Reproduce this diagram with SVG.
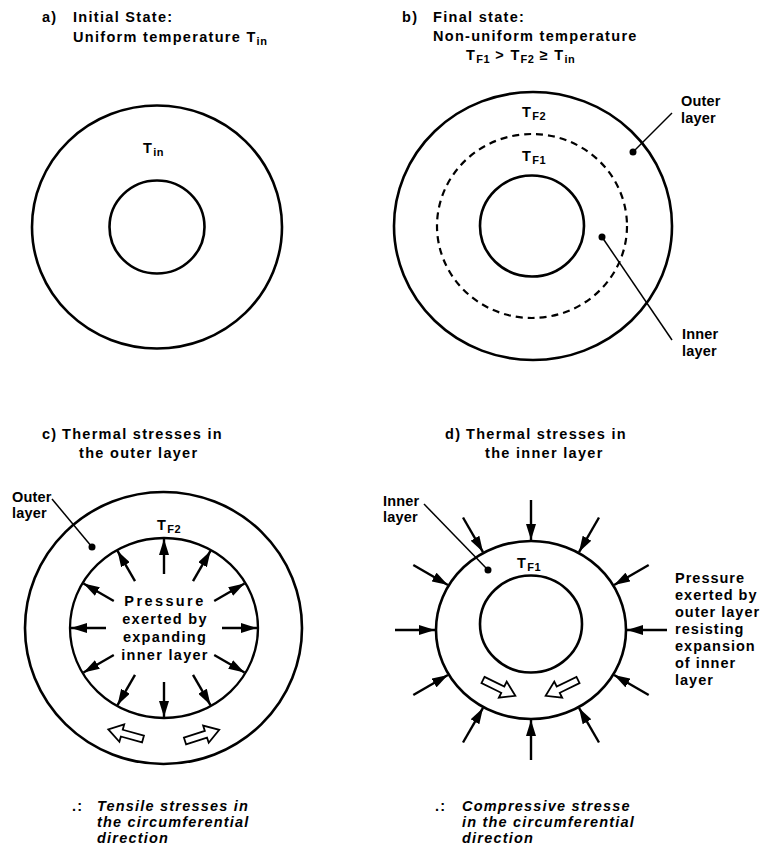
<svg xmlns="http://www.w3.org/2000/svg" width="765" height="848" viewBox="0 0 765 848">
<style>
 text{font-family:"Liberation Sans",Arial,sans-serif;font-weight:bold;font-size:14.5px;letter-spacing:1.3px;fill:#000}
 .s{font-size:11px;letter-spacing:0.5px}
 .i{font-style:italic;letter-spacing:1.2px}
 .wide{letter-spacing:2.4px}
 .rt{letter-spacing:1px}
 .lb{letter-spacing:0.2px}
 .ring{fill:none;stroke:#000;stroke-width:2.6}
 .thin{stroke-width:2.3}
 .dash{fill:none;stroke:#000;stroke-width:2.2;stroke-dasharray:7 5}
 .lead{stroke:#000;stroke-width:1.5;fill:none}
 .arr{stroke:#000;stroke-width:2.4;marker-end:url(#ah)}
 .hol{fill:#fff;stroke:#000;stroke-width:1.8;stroke-linejoin:miter}
</style>
<defs>
 <marker id="ah" viewBox="0 0 16 10" refX="16" refY="5" markerWidth="16" markerHeight="10" markerUnits="userSpaceOnUse" orient="auto"><path d="M0,0 L16,5 L0,10 Z"/></marker>
 <path id="hollow" d="M0,-3.5 L22,-3.5 L22,-9 L36,0 L22,9 L22,3.5 L0,3.5 Z"/>
</defs>

<g id="panel-a">
 <text x="42" y="22">a)</text>
 <text x="73" y="22">Initial State:</text>
 <text x="73" y="42">Uniform temperature T<tspan class="s" dy="3">in</tspan></text>
 <ellipse class="ring" cx="157" cy="227" rx="125" ry="121.5"/>
 <ellipse class="ring" cx="157" cy="227" rx="47.5" ry="46.5"/>
 <text x="143" y="153">T<tspan class="s" dy="3">in</tspan></text>
</g>

<g id="panel-b">
 <text x="402" y="22">b)</text>
 <text x="433" y="22">Final state:</text>
 <text x="433" y="41">Non-uniform temperature</text>
 <text x="466" y="60">T<tspan class="s" dy="3">F1</tspan><tspan dy="-3"> &gt; T</tspan><tspan class="s" dy="3">F2</tspan><tspan dy="-3"> ≥ T</tspan><tspan class="s" dy="3">in</tspan></text>
 <ellipse class="ring" cx="533" cy="226" rx="139" ry="134"/>
 <ellipse class="dash" cx="532" cy="226" rx="95" ry="92"/>
 <ellipse class="ring" cx="532" cy="226" rx="52" ry="50.5"/>
 <text x="522" y="117">T<tspan class="s" dy="3">F2</tspan></text>
 <text x="522" y="161">T<tspan class="s" dy="3">F1</tspan></text>
 <g id="b-outer-label"><text class="lb" x="681" y="106">Outer</text><text class="lb" x="681" y="123">layer</text></g>
 <g id="b-inner-label"><text class="lb" x="682" y="339">Inner</text><text class="lb" x="682" y="356">layer</text></g>
 <circle cx="633" cy="152" r="3.5"/>
 <circle cx="602" cy="237" r="3.5"/>
</g>

<g id="panel-c">
 <text x="42" y="439">c)</text>
 <text x="62" y="439">Thermal stresses in</text>
 <text x="79" y="458">the outer layer</text>
 <ellipse class="ring" cx="163.5" cy="628" rx="138.5" ry="136"/>
 <ellipse class="ring thin" cx="164" cy="628" rx="94" ry="90"/>
 <text x="157" y="530">T<tspan class="s" dy="3">F2</tspan></text>
 <g id="c-outer-label"><text class="lb" x="12" y="502">Outer</text><text class="lb" x="12" y="518">layer</text></g>
 <circle cx="92" cy="547" r="3.5"/>
 <g id="c-text" text-anchor="middle">
  <text class="wide" x="165" y="606">Pressure</text>
  <text x="165" y="624">exerted by</text>
  <text x="165" y="642">expanding</text>
  <text x="165" y="660">inner layer</text>
 </g>
 <use href="#hollow" class="hol" transform="translate(143,739) rotate(195.5)"/>
 <use href="#hollow" class="hol" transform="translate(185,741) rotate(-18)"/>
 <text x="72" y="811">.:</text>
 <text class="i" x="97" y="811">Tensile stresses in</text>
 <text class="i" x="97" y="827">the circumferential</text>
 <text class="i" x="97" y="843">direction</text>
</g>

<g id="panel-d">
 <text x="445" y="439">d)</text>
 <text x="466" y="439">Thermal stresses in</text>
 <text x="485" y="458">the inner layer</text>
 <ellipse class="ring" cx="531" cy="630" rx="95" ry="89"/>
 <ellipse class="ring" cx="531" cy="624" rx="51" ry="48.5"/>
 <text x="517" y="568">T<tspan class="s" dy="3">F1</tspan></text>
 <g id="d-inner-label"><text class="lb" x="383" y="506">Inner</text><text class="lb" x="383" y="522">layer</text></g>
 <circle cx="488" cy="570" r="3.5"/>
 <g id="d-text">
  <text class="rt" x="675" y="583">Pressure</text>
  <text class="rt" x="675" y="600">exerted by</text>
  <text class="rt" x="675" y="617">outer layer</text>
  <text class="rt" x="675" y="634">resisting</text>
  <text class="rt" x="675" y="651">expansion</text>
  <text class="rt" x="675" y="668">of inner</text>
  <text class="rt" x="675" y="685">layer</text>
 </g>
 <use href="#hollow" class="hol" transform="translate(483,680) rotate(26)"/>
 <use href="#hollow" class="hol" transform="translate(578,680) rotate(154)"/>
 <text x="435" y="811">.:</text>
 <text class="i" x="462" y="811">Compressive stresse</text>
 <text class="i" x="462" y="827">in the circumferential</text>
 <text class="i" x="462" y="843">direction</text>
</g>

<g id="connectors">
 <line class="lead" x1="633" y1="152" x2="672" y2="113"/>
 <line class="lead" x1="602" y1="237" x2="672" y2="340"/>
 <line class="lead" x1="92" y1="547" x2="52" y2="499"/>
 <line class="lead" x1="488" y1="570" x2="424" y2="504"/>
 <g id="c-arrows">
  <line class="arr" x1="222" y1="628" x2="257" y2="628"/>
  <line class="arr" x1="214.2" y1="601" x2="244.5" y2="583.5"/>
  <line class="arr" x1="193" y1="581.2" x2="210.5" y2="550.9"/>
  <line class="arr" x1="164" y1="574" x2="164" y2="539"/>
  <line class="arr" x1="135" y1="581.2" x2="117.5" y2="550.9"/>
  <line class="arr" x1="113.8" y1="601" x2="83.5" y2="583.5"/>
  <line class="arr" x1="106" y1="628" x2="71" y2="628"/>
  <line class="arr" x1="113.8" y1="655" x2="83.5" y2="672.5"/>
  <line class="arr" x1="135" y1="674.8" x2="117.5" y2="705.1"/>
  <line class="arr" x1="164" y1="682" x2="164" y2="717"/>
  <line class="arr" x1="193" y1="674.8" x2="210.5" y2="705.1"/>
  <line class="arr" x1="214.2" y1="655" x2="244.5" y2="672.5"/>
 </g>
 <g id="d-arrows">
  <line class="arr" x1="667" y1="630" x2="627" y2="630"/>
  <line class="arr" x1="648.7" y1="565" x2="614.1" y2="585"/>
  <line class="arr" x1="599" y1="517.5" x2="579" y2="552.1"/>
  <line class="arr" x1="531" y1="500" x2="531" y2="540"/>
  <line class="arr" x1="463" y1="517.5" x2="483" y2="552.1"/>
  <line class="arr" x1="413.3" y1="565" x2="447.9" y2="585"/>
  <line class="arr" x1="395" y1="630" x2="435" y2="630"/>
  <line class="arr" x1="413.3" y1="695" x2="447.9" y2="675"/>
  <line class="arr" x1="463" y1="742.5" x2="483" y2="707.9"/>
  <line class="arr" x1="531" y1="760" x2="531" y2="720"/>
  <line class="arr" x1="599" y1="742.5" x2="579" y2="707.9"/>
  <line class="arr" x1="648.7" y1="695" x2="614.1" y2="675"/>
 </g>
</g>
</svg>
